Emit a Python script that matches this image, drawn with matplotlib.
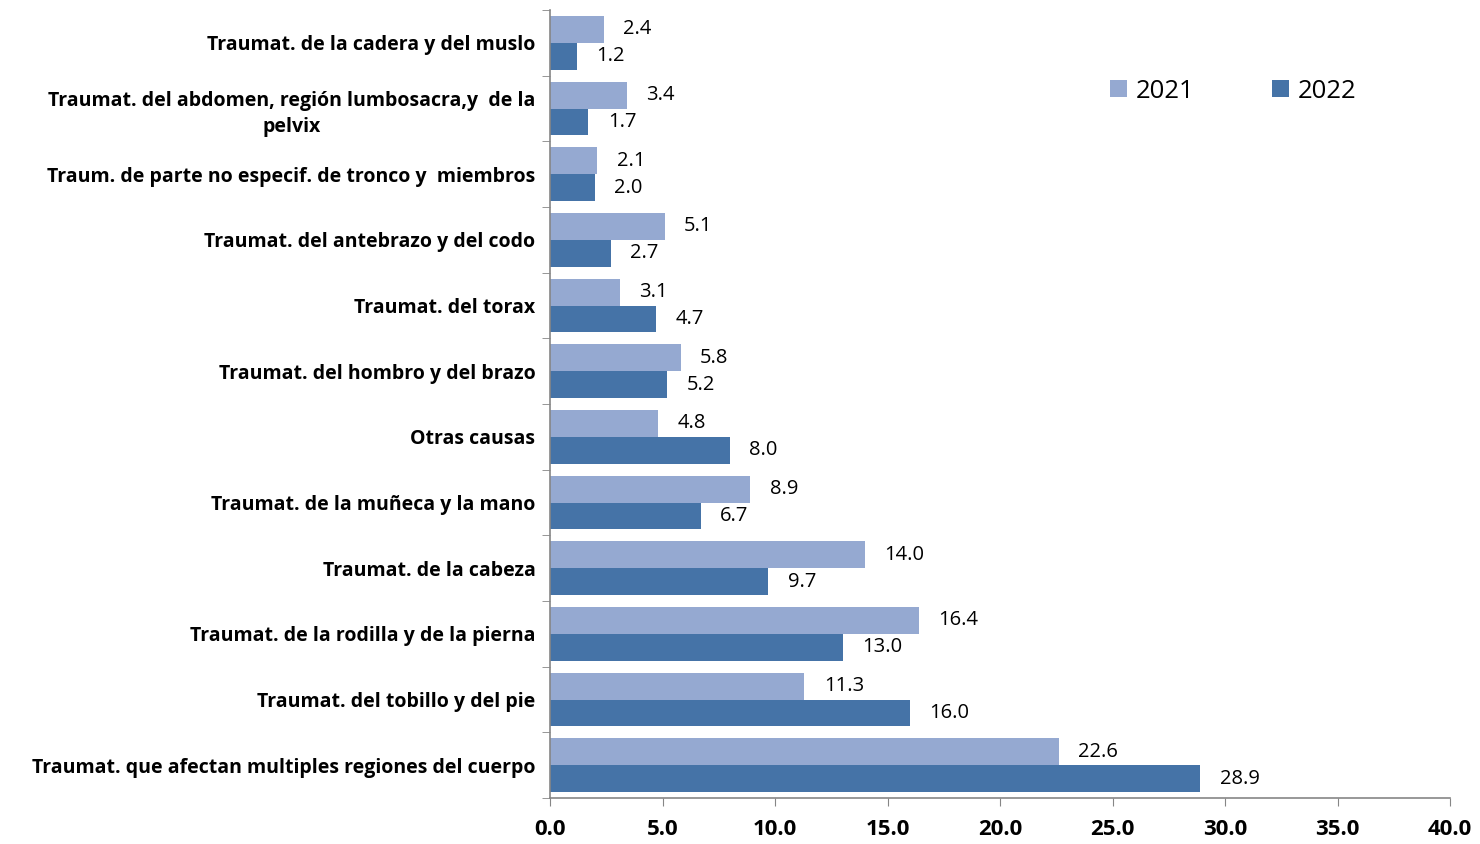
import matplotlib
matplotlib.use("Agg")
import matplotlib.pyplot as plt
import numpy as np

categories = [
    "Traumat. que afectan multiples regiones del cuerpo",
    "Traumat. del tobillo y del pie",
    "Traumat. de la rodilla y de la pierna",
    "Traumat. de la cabeza",
    "Traumat. de la muñeca y la mano",
    "Otras causas",
    "Traumat. del hombro y del brazo",
    "Traumat. del torax",
    "Traumat. del antebrazo y del codo",
    "Traum. de parte no especif. de tronco y  miembros",
    "Traumat. del abdomen, región lumbosacra,y  de la\npelvix",
    "Traumat. de la cadera y del muslo",
]
values_2021 = [22.6, 11.3, 16.4, 14.0, 8.9, 4.8, 5.8, 3.1, 5.1, 2.1, 3.4, 2.4]
values_2022 = [28.9, 16.0, 13.0, 9.7, 6.7, 8.0, 5.2, 4.7, 2.7, 2.0, 1.7, 1.2]
series_labels = ["2021", "2022"]
xticks = [0, 5, 10, 15, 20, 25, 30, 35, 40]

c21 = "#95A9D1"
c22 = "#4573A7"
axis_col = "#868686"
font = "Open Sans"

fig = plt.figure(figsize=(14.8, 8.44), dpi=100)
ax = fig.add_axes([550/1480, 1 - 798/844, 900/1480, 788/844])

y = np.arange(len(categories))
h = 0.41
b1 = ax.barh(y + h/2, values_2021, height=h, color=c21, label=series_labels[0])
b2 = ax.barh(y - h/2, values_2022, height=h, color=c22, label=series_labels[1])

for bars, vals in ((b1, values_2021), (b2, values_2022)):
    for r, v in zip(bars, vals):
        ax.annotate(f"{v:.1f}", (v, r.get_y() + r.get_height()/2),
                    xytext=(14, 0), textcoords="offset points",
                    ha="left", va="center", fontsize=14.5, family=font)

ax.set_xlim(0, 40)
ax.set_ylim(-0.5, len(categories) - 0.5)
ax.set_xticks(xticks)
ax.set_xticklabels([f"{t:.1f}" for t in xticks], fontsize=16, fontweight="bold", family=font)
ax.set_yticks(y)
ax.set_yticklabels(categories, fontsize=14, fontweight="bold", family=font,
                   multialignment="center", linespacing=1.4)
ax.set_yticks(np.arange(-0.5, len(categories)), minor=True)
ax.tick_params(axis="y", which="major", length=0, pad=10.5)
ax.tick_params(axis="y", which="minor", length=6, color=axis_col, direction="out")
ax.tick_params(axis="x", length=6, color=axis_col, direction="out", pad=9)

for s in ("top", "right"):
    ax.spines[s].set_visible(False)
for s in ("left", "bottom"):
    ax.spines[s].set_color(axis_col)
    ax.spines[s].set_linewidth(1.2)

ax.legend(loc="center left", bbox_to_anchor=(1097/1480, 1 - 91/844), bbox_transform=fig.transFigure,
          ncol=2, frameon=False, prop={"family": font, "size": 18.5}, borderpad=0,
          handlelength=0.67, handleheight=0.67, columnspacing=3.0, handletextpad=0.35)

fig.savefig("out.png", dpi=100)
